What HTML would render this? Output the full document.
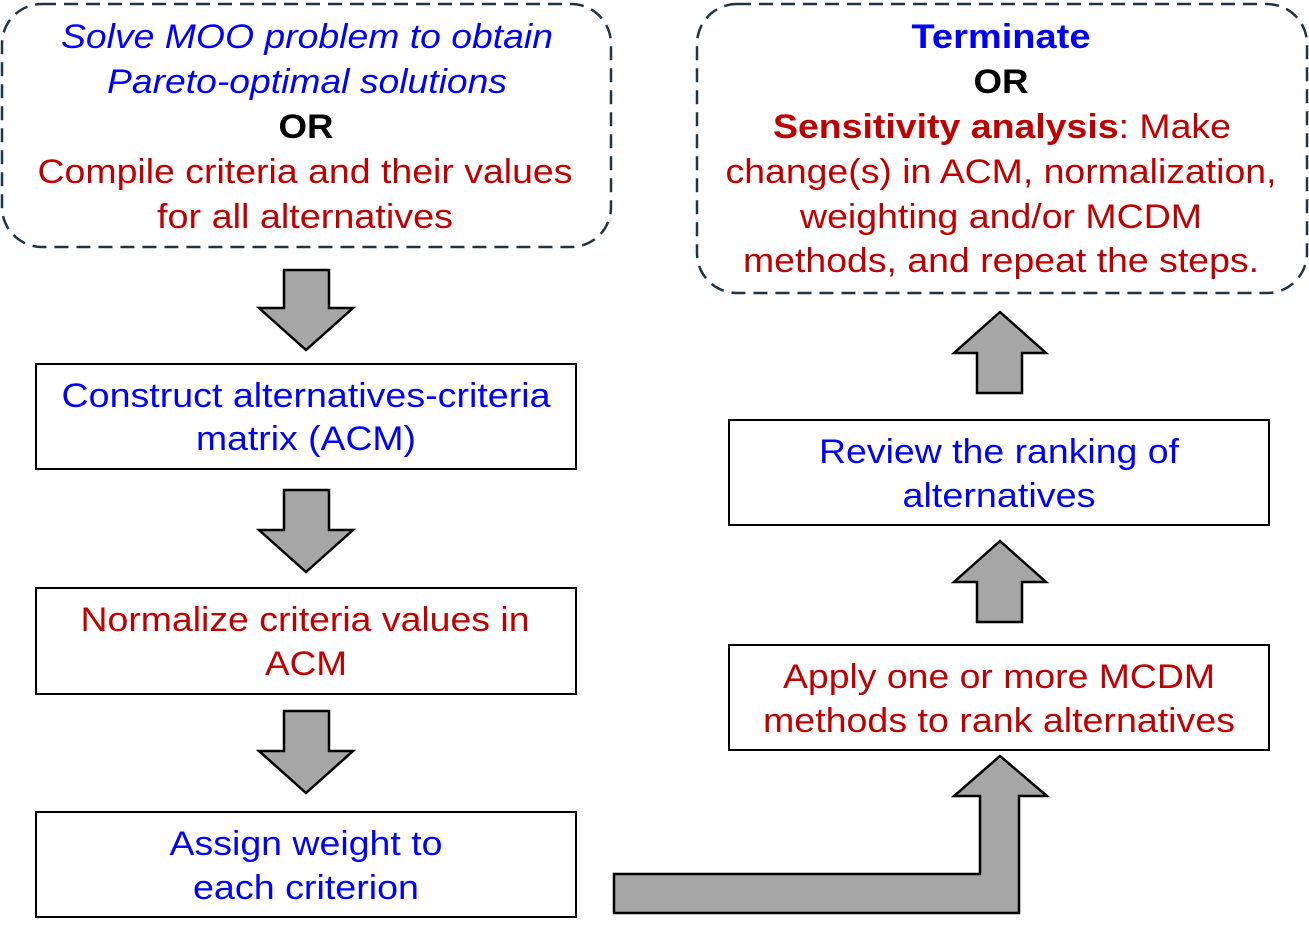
<!DOCTYPE html>
<html><head><meta charset="utf-8"><style>
html,body{margin:0;padding:0;background:#fff;}
svg{display:block;}
text{font-family:"Liberation Sans",Arial,sans-serif;font-size:34px;text-anchor:middle;}
.b{fill:#0000ff}.r{fill:#c00000}.k{fill:#000}
</style></head><body>
<svg width="1309" height="932" viewBox="0 0 1309 932" xmlns="http://www.w3.org/2000/svg">
<g fill="none" stroke="#1f3545" stroke-width="2.5" stroke-dasharray="14,8">
<rect x="2" y="4" width="609" height="243" rx="40"/>
<rect x="697" y="4" width="610" height="289" rx="40"/>
</g>
<text x="307" y="48" class="b" font-style="italic" textLength="492" lengthAdjust="spacingAndGlyphs">Solve MOO problem to obtain</text>
<text x="307" y="93" class="b" font-style="italic" textLength="400" lengthAdjust="spacingAndGlyphs">Pareto-optimal solutions</text>
<text x="306" y="138" class="k" font-weight="bold" textLength="55" lengthAdjust="spacingAndGlyphs">OR</text>
<text x="305" y="183" class="r" textLength="535" lengthAdjust="spacingAndGlyphs">Compile criteria and their values</text>
<text x="305" y="228" class="r" textLength="296" lengthAdjust="spacingAndGlyphs">for all alternatives</text>

<text x="1001" y="48" class="b" font-weight="bold" textLength="179" lengthAdjust="spacingAndGlyphs">Terminate</text>
<text x="1001" y="93" class="k" font-weight="bold" textLength="55" lengthAdjust="spacingAndGlyphs">OR</text>
<text x="1002" y="138" class="r" textLength="458" lengthAdjust="spacingAndGlyphs"><tspan font-weight="bold">Sensitivity analysis</tspan>: Make</text>
<text x="1001" y="183" class="r" textLength="551" lengthAdjust="spacingAndGlyphs">change(s) in ACM, normalization,</text>
<text x="1001" y="228" class="r" textLength="402" lengthAdjust="spacingAndGlyphs">weighting and/or MCDM</text>
<text x="1001" y="272" class="r" textLength="516" lengthAdjust="spacingAndGlyphs">methods, and repeat the steps.</text>

<g fill="#fff" stroke="#000" stroke-width="2">
<rect x="36" y="364" width="540" height="105"/>
<rect x="36" y="588" width="540" height="106"/>
<rect x="36" y="812" width="540" height="105"/>
<rect x="729" y="420" width="540" height="105"/>
<rect x="729" y="645" width="540" height="105"/>
</g>
<text x="306" y="407" class="b" textLength="489" lengthAdjust="spacingAndGlyphs">Construct alternatives-criteria</text>
<text x="306" y="450" class="b" textLength="220" lengthAdjust="spacingAndGlyphs">matrix (ACM)</text>
<text x="305" y="631" class="r" textLength="449" lengthAdjust="spacingAndGlyphs">Normalize criteria values in</text>
<text x="306" y="675" class="r" textLength="82" lengthAdjust="spacingAndGlyphs">ACM</text>
<text x="306" y="855" class="b" textLength="273" lengthAdjust="spacingAndGlyphs">Assign weight to</text>
<text x="306" y="899" class="b" textLength="226" lengthAdjust="spacingAndGlyphs">each criterion</text>
<text x="999" y="463" class="b" textLength="360" lengthAdjust="spacingAndGlyphs">Review the ranking of</text>
<text x="999" y="507" class="b" textLength="193" lengthAdjust="spacingAndGlyphs">alternatives</text>
<text x="999" y="688" class="r" textLength="432" lengthAdjust="spacingAndGlyphs">Apply one or more MCDM</text>
<text x="999" y="732" class="r" textLength="472" lengthAdjust="spacingAndGlyphs">methods to rank alternatives</text>

<g fill="#a6a6a6" stroke="#000" stroke-width="2.5" stroke-linejoin="miter">
<polygon points="284,270 329,270 329,308 353,308 306,350 259,308 284,308"/>
<polygon points="284,490 329,490 329,530 353,530 306,572 259,530 284,530"/>
<polygon points="284,711 329,711 329,751 353,751 306,793 259,751 284,751"/>
<polygon points="1000,312 1046,353 1022,353 1022,393 977,393 977,353 954,353"/>
<polygon points="1000,541 1046,582 1022,582 1022,622 977,622 977,582 954,582"/>
<polygon points="614,874 980,874 980,796 954,796 1000,756 1047,796 1019,796 1019,913 614,913"/>
</g>
</svg>
</body></html>
